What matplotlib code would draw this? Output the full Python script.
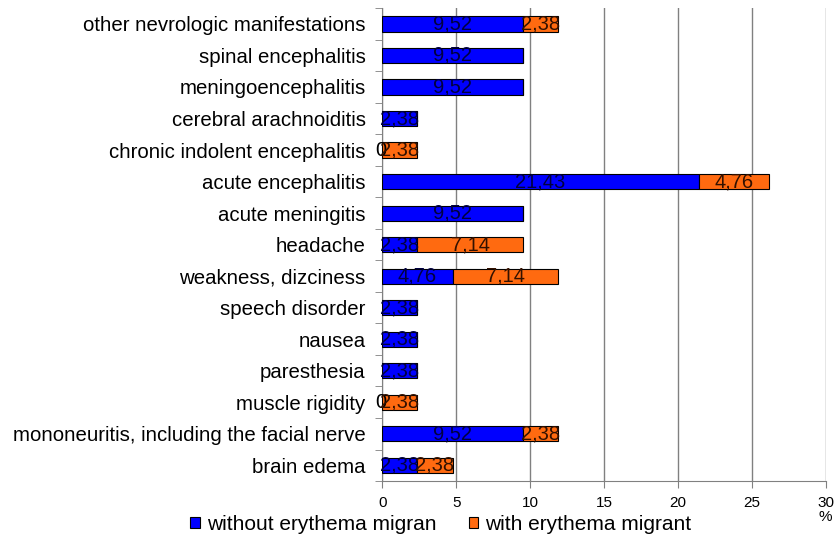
import matplotlib
matplotlib.use("Agg")
import matplotlib.pyplot as plt
import numpy as np

plt.rcParams['font.family'] = ['Liberation Sans', 'DejaVu Sans']

categories = ["other nevrologic manifestations", "spinal encephalitis", "meningoencephalitis",
              "cerebral arachnoiditis", "chronic indolent encephalitis", "acute encephalitis",
              "acute meningitis", "headache", "weakness, dizciness", "speech disorder",
              "nausea", "paresthesia", "muscle rigidity",
              "mononeuritis, including the facial nerve", "brain edema"]
without_em = [9.52, 9.52, 9.52, 2.38, 0, 21.43, 9.52, 2.38, 4.76, 2.38, 2.38, 2.38, 0, 9.52, 2.38]
with_em = [2.38, 0, 0, 0, 2.38, 4.76, 0, 7.14, 7.14, 0, 0, 0, 2.38, 2.38, 2.38]
xticks = [0, 5, 10, 15, 20, 25, 30]

fig = plt.figure(figsize=(8.4, 5.46), dpi=100)
ax = fig.add_axes([0.455, 0.119, 0.528, 0.866])

n = len(categories)
y = np.arange(n)[::-1]
blue = "#0000FF"
orange = "#FF6A10"
h = 0.48
ax.barh(y, without_em, height=h, color=blue, edgecolor="black", linewidth=0.8,
        label="without erythema migran", zorder=3)
ax.barh(y, with_em, left=without_em, height=h, color=orange, edgecolor="black", linewidth=0.8,
        label="with erythema migrant", zorder=3)

def fmt(v):
    return ("%.2f" % v).replace(".", ",")

for yi, a, b in zip(y, without_em, with_em):
    if a > 0:
        ax.text(a / 2, yi, fmt(a), ha="center", va="center", fontsize=14.5, color="#000040", zorder=4)
    else:
        ax.text(-0.1, yi, "0", ha="center", va="center", fontsize=14.5, color="black", zorder=4)
    if b > 0:
        ax.text(a + b / 2, yi, fmt(b), ha="center", va="center", fontsize=14.5, color="#331100", zorder=4)

ax.set_xlim(0, 30)
ax.set_ylim(-0.5, n - 0.5)
ax.set_xticks(xticks)
ax.set_xticklabels([str(t) for t in xticks], fontsize=11)
ax.set_yticks(y)
ax.set_yticklabels(categories, fontsize=14.7)
ax.tick_params(axis="y", length=0, pad=12)
ax.set_yticks(np.arange(-0.5, n, 1.0), minor=True)
ax.tick_params(axis="y", which="minor", length=5, color="#808080")
ax.tick_params(axis="x", length=5, color="#808080", pad=6)
ax.grid(axis="x", color="#808080", linewidth=1.0, zorder=0)
for s in ["top", "right"]:
    ax.spines[s].set_visible(False)
ax.spines["left"].set_color("#808080")
ax.spines["bottom"].set_color("#808080")
ax.text(30, -1.65, "%", ha="center", va="center", fontsize=11)

leg = fig.legend(loc="lower center", bbox_to_anchor=(0.525, -0.012), ncol=2, frameon=False,
                 fontsize=15, handlelength=0.45, handleheight=0.45, handletextpad=0.35,
                 columnspacing=1.55)
fig.savefig("out.png", dpi=100)
